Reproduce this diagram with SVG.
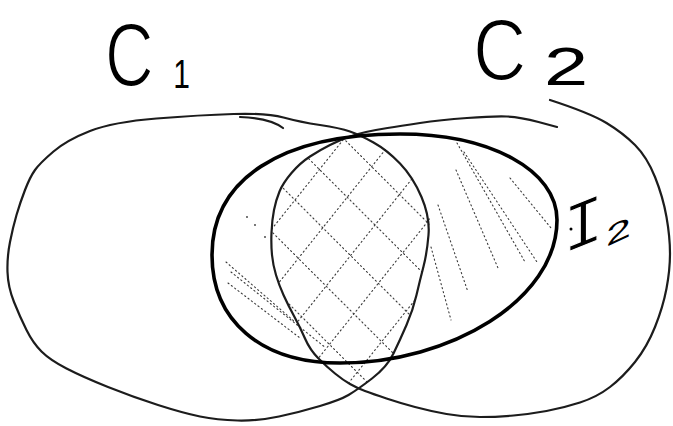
<svg xmlns="http://www.w3.org/2000/svg" width="673" height="426" viewBox="0 0 673 426">
  <style>
    .outer { fill: none; stroke: #1c1c1c; stroke-width: 2.2; stroke-linecap: round; stroke-linejoin: round; }
    .thick { fill: none; stroke: #000; stroke-width: 3.6; stroke-linecap: round; stroke-linejoin: round; }
    .hatch { fill: none; stroke: #3a3a3a; stroke-width: 1.1; stroke-dasharray: 1.2 3; stroke-linecap: round; }
    .hand { font-family: "Liberation Sans", Arial, sans-serif; fill: #000; stroke: #fff; stroke-width: 2; }
    .plain { font-family: "Liberation Sans", Arial, sans-serif; fill: #000; stroke: none; }
    .mono { font-family: "Liberation Mono", monospace; fill: #000; stroke: #fff; stroke-width: 1.2; }
  </style>
  <defs>
    <clipPath id="lens">
      <polygon points="357,134 340,140 320,150 300,163 283,183 276,200 272,220 271,245 273,265 279,285 288,305 300,327 310,350 327,367 343,380 357,388 373,380 387,367 400,340 413,310 420,280 427,253 430,217 427,197 413,177 387,150"/>
    </clipPath>
  </defs>
  <rect width="673" height="426" fill="#fff"/>

  <g id="hatching">
    <g clip-path="url(#lens)">
      <path class="hatch" d="M105,120 L385,400 M160,120 L440,400 M215,120 L495,400 M270,120 L550,400 M325,120 L605,400"/>
      <path class="hatch" d="M359,120 L135,400 M409,120 L185,400 M459,120 L235,400 M509,120 L285,400 M559,120 L335,400"/>
    </g>
    <path class="hatch" d="M457,143 L525,262 M464,152 L537,262 M456,170 L498,268 M510,178 L551,228 M438,205 L468,292 M431,247 L451,320"/>
    <path class="hatch" d="M226,262 L295,322 M231,272 L326,348 M228,283 L300,338"/>
    <g fill="#3a3a3a">
      <circle cx="247" cy="217" r="0.9"/>
      <circle cx="255" cy="225" r="0.9"/>
      <circle cx="265" cy="237" r="0.9"/>
    </g>
  </g>

  <g id="c1">
    <path class="outer" d="M 90,131 Q 113,122 156.5,118.5 Q 200,115 233.5,114 Q 267,113 283.5,117.5 Q 300,122 320,125 Q 340,128 350,131.5 Q 360,135 373.5,142.5 Q 387,150 400,163.5 Q 413,177 421.5,197 Q 430,217 428.5,235 Q 427,253 423.5,266.5 Q 420,280 416.5,295 Q 413,310 406.5,325 Q 400,340 393.5,353.5 Q 387,367 372,378.5 Q 357,390 348.5,395 Q 340,400 320,406 Q 300,412 279,416.5 Q 258,421 237.5,420.5 Q 217,420 200,416.5 Q 183,413 158,405 Q 133,397 108,387 Q 83,377 66.5,368.5 Q 50,360 41.5,351.5 Q 33,343 26.5,330 Q 20,317 14,302 Q 8,287 7.5,272 Q 7,257 10,242 Q 13,227 16.5,215 Q 20,203 25,190 Q 30,177 35,170 Q 40,163 53.5,151.5 Q 67,140 90,131 Z"/>
    <path class="outer" d="M 240,117 Q 270,118 283,128"/>
    <text class="hand" font-size="90" transform="translate(105,86) scale(0.75,1)">C<tspan class="plain" font-size="40" dx="26" dy="2">1</tspan></text>
  </g>

  <g id="c2">
    <path class="outer" d="M 550,100 Q 590,113 606.5,123 Q 623,133 635,145 Q 647,157 655,177 Q 663,197 666.5,217 Q 670,237 670,253.5 Q 670,270 666.5,288.5 Q 663,307 655,327 Q 647,347 635,362 Q 623,377 610,387 Q 597,397 580,402.5 Q 563,408 546.5,411 Q 530,414 513.5,415.5 Q 497,417 480,417 Q 463,417 446.5,414 Q 430,411 415,407 Q 400,403 386.5,398.5 Q 373,394 365,391 Q 357,388 350,384 Q 343,380 335,373.5 Q 327,367 318.5,358.5 Q 310,350 305,338.5 Q 300,327 294,316 Q 288,305 283.5,295 Q 279,285 276,275 Q 273,265 272,255 Q 271,245 271.5,232.5 Q 272,220 274,210 Q 276,200 279.5,191.5 Q 283,183 291.5,173 Q 300,163 310,156.5 Q 320,150 330,145 Q 340,140 348.5,137 Q 357,134 366,132 Q 375,130 387.5,128 Q 400,126 420,123 Q 440,120 467,118 Q 494,116 507,116.5 Q 520,117 538.5,122 L 557,127"/>
    <text class="hand" font-size="87" transform="translate(473,80) scale(0.85,1)">C</text>
    <text class="plain" font-size="53" transform="translate(544,85) scale(1.5,1)">2</text>
  </g>

  <g id="i2">
    <path class="thick" d="M 212,255 C 212,180 280,134 400,134 C 490,134 557,170 557,220 C 557,300 450,363 340,363 C 260,363 212,320 212,255 Z"/>
    <text class="mono" font-size="68" transform="translate(563,254) skewY(-22)">I</text>
    <text class="plain" font-size="28" transform="translate(606,247) skewY(-25) scale(1.6,1)">2</text>
    <circle cx="571" cy="229" r="1.5" fill="#000"/>
  </g>
</svg>
